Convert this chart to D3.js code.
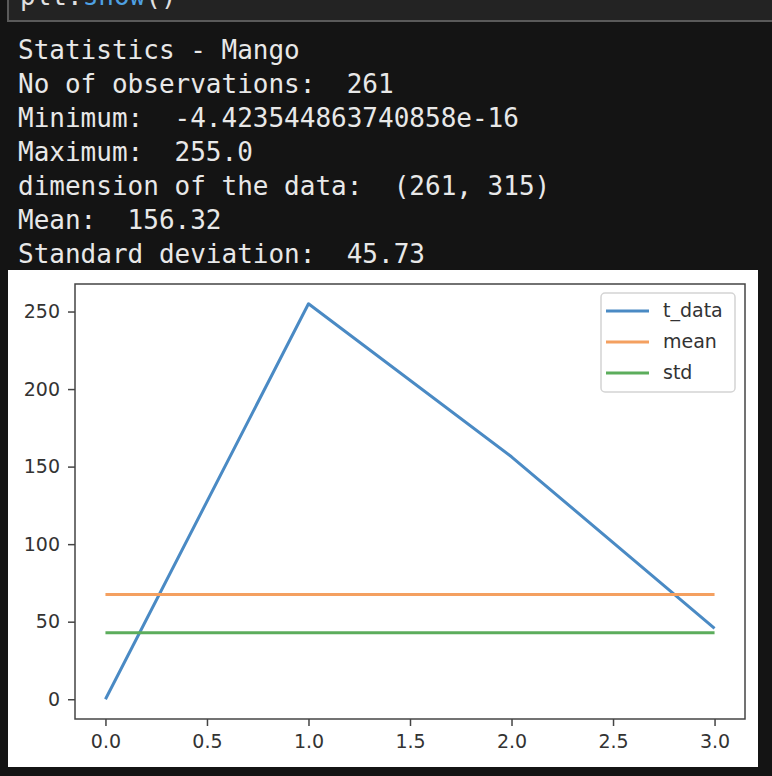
<!DOCTYPE html>
<html>
<head>
<meta charset="utf-8">
<script src="https://cdn.jsdelivr.net/npm/d3@7"></script>
<style>
  body { margin: 0; background: #141414; }
  svg { display: block; }
</style>
</head>
<body>
<div id="chart"></div>
<script>
// console text printed above the plot
var statLines = [
    'Statistics - Mango',
    'No of observations:  261',
    'Minimum:  -4.423544863740858e-16',
    'Maximum:  255.0',
    'dimension of the data:  (261, 315)',
    'Mean:  156.32',
    'Standard deviation:  45.73'
];

// plot data
var xValues = [0, 1, 2, 3];
var tData = [0, 255, 156.32, 45.73];
var meanValues = [67.5, 67.5, 67.5, 67.5];
var stdValues = [42.8, 42.8, 42.8, 42.8];
var seriesNames = ['t_data', 'mean', 'std'];
var xTicks = [0, 0.5, 1, 1.5, 2, 2.5, 3];
var yTicks = [0, 50, 100, 150, 200, 250];

var width = 772;
var height = 776;
var colors = ['#4a8ac4', '#f4a060', '#5cad5c'];

var svg = d3.select('#chart')
    .append('svg')
    .attr('width', width)
    .attr('height', height);

// code cell remnant at the top
svg.append('rect')
    .attr('x', 8)
    .attr('y', -10)
    .attr('width', 800)
    .attr('height', 31)
    .attr('fill', '#232323')
    .attr('stroke', '#5a5a5a')
    .attr('stroke-width', 2);
var code = svg.append('text')
    .attr('x', 20)
    .attr('y', 5)
    .attr('font-family', 'DejaVu Sans Mono, monospace')
    .attr('font-size', 26)
    .attr('fill', '#e0e0e0');
code.append('tspan').text('plt.');
code.append('tspan').attr('fill', '#4ea1e3').text('show');
code.append('tspan').text('()');

// printed statistics
svg.append('g')
    .selectAll('text')
    .data(statLines)
    .enter()
    .append('text')
    .attr('x', 18)
    .attr('y', function (d, i) { return 59 + i * 34; })
    .attr('font-family', 'DejaVu Sans Mono, monospace')
    .attr('font-size', 26)
    .attr('fill', '#e8e8e8')
    .attr('xml:space', 'preserve')
    .style('white-space', 'pre')
    .text(function (d) { return d; });

// white figure background
svg.append('rect')
    .attr('x', 8)
    .attr('y', 270)
    .attr('width', 750)
    .attr('height', 497)
    .attr('fill', '#ffffff');

var plot = {left: 75, right: 745, top: 284, bottom: 719};

var xScale = d3.scaleLinear()
    .domain([-0.15, 3.15])
    .range([plot.left, plot.right]);
var yScale = d3.scaleLinear()
    .domain([-12.75, 267.75])
    .range([plot.bottom, plot.top]);

var xAxis = d3.axisBottom(xScale)
    .tickValues(xTicks)
    .tickFormat(d3.format('.1f'))
    .tickSize(7)
    .tickPadding(9);
var yAxis = d3.axisLeft(yScale)
    .tickValues(yTicks)
    .tickSize(7)
    .tickPadding(8);

function styleAxis(g) {
    g.select('.domain').remove();
    g.selectAll('line').attr('stroke', '#444').attr('stroke-width', 1.5);
    g.selectAll('text')
        .attr('fill', '#333')
        .attr('font-family', 'DejaVu Sans, sans-serif')
        .attr('font-size', 19);
}

svg.append('g')
    .attr('transform', 'translate(0,' + plot.bottom + ')')
    .call(xAxis)
    .call(styleAxis);
svg.append('g')
    .attr('transform', 'translate(' + plot.left + ',0)')
    .call(yAxis)
    .call(styleAxis);

var line = d3.line()
    .x(function (d) { return xScale(d[0]); })
    .y(function (d) { return yScale(d[1]); });

var series = [tData, meanValues, stdValues];
svg.append('g')
    .selectAll('path')
    .data(series)
    .enter()
    .append('path')
    .attr('d', function (s) {
        return line(xValues.map(function (x, i) { return [x, s[i]]; }));
    })
    .attr('fill', 'none')
    .attr('stroke', function (d, i) { return colors[i]; })
    .attr('stroke-width', 3)
    .attr('stroke-linejoin', 'round');

// frame
svg.append('rect')
    .attr('x', plot.left)
    .attr('y', plot.top)
    .attr('width', plot.right - plot.left)
    .attr('height', plot.bottom - plot.top)
    .attr('fill', 'none')
    .attr('stroke', '#444')
    .attr('stroke-width', 1.5);

// legend
var legend = svg.append('g');
legend.append('rect')
    .attr('x', 601)
    .attr('y', 293)
    .attr('width', 134)
    .attr('height', 99)
    .attr('rx', 4)
    .attr('fill', '#ffffff')
    .attr('stroke', '#d4d4d4')
    .attr('stroke-width', 1.5);
var items = legend.selectAll('g.item')
    .data(seriesNames)
    .enter()
    .append('g')
    .attr('class', 'item')
    .attr('transform', function (d, i) { return 'translate(0,' + (311 + i * 31) + ')'; });
items.append('line')
    .attr('x1', 606)
    .attr('x2', 649)
    .attr('stroke', function (d, i) { return colors[i]; })
    .attr('stroke-width', 3);
items.append('text')
    .attr('x', 663)
    .attr('dy', '0.32em')
    .attr('fill', '#333')
    .attr('font-family', 'DejaVu Sans, sans-serif')
    .attr('font-size', 19)
    .text(function (d) { return d; });
</script>
</body>
</html>
